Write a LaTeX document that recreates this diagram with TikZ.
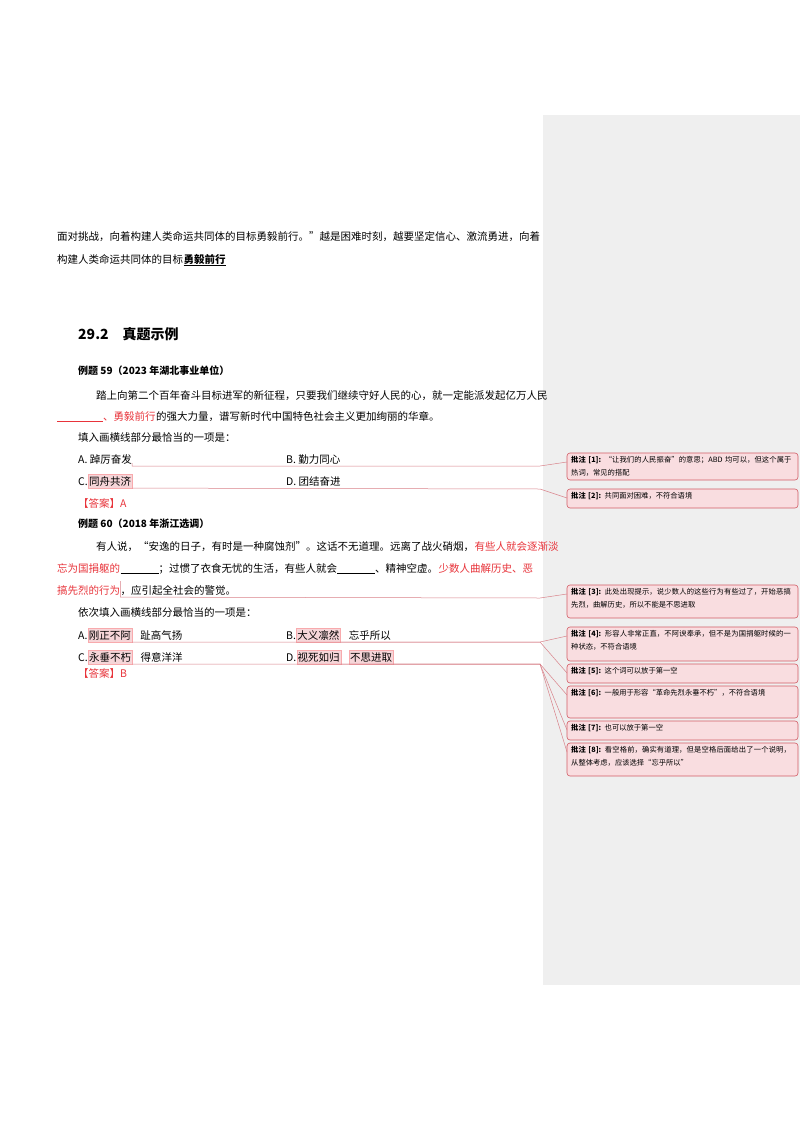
\documentclass[tikz,border=0pt]{standalone}
\usepackage{fontspec}
\setmainfont{Noto Sans CJK SC}
\XeTeXlinebreaklocale "zh"
\XeTeXlinebreakskip=0pt plus 1pt
\definecolor{cred}{HTML}{E8333A}
\definecolor{hl}{HTML}{F6D5D8}
\definecolor{cline}{HTML}{D9828A}
\definecolor{panel}{HTML}{EFEFEF}
\definecolor{boxf}{HTML}{F9DDE0}
\definecolor{boxd}{HTML}{D25C66}
\tikzset{
 t/.style={anchor=base west,inner sep=0pt,font=\fontsize{10.5}{12}\selectfont},
 hlt/.style={t,fill=hl,inner xsep=1pt,inner ysep=2pt,draw=hl!80!red},
 rt/.style={t,text=cred},
 cbox/.style={draw=boxd,fill=boxf,rounded corners=3pt,line width=0.6pt},
 ctext/.style={anchor=north west,inner sep=0pt,text width=222pt,font=\fontsize{7.3}{13}\selectfont,align=left},
 cl/.style={draw=cline,line width=0.5pt}
}
\begin{document}
\begin{tikzpicture}[x=1pt,y=-1pt]
\useasboundingbox[fill=white] (0,0) rectangle (800,1132);
\fill[panel] (543,115) rectangle (800,985);
% text
\node[t] (l1) at (57,240) {面对挑战，向着构建人类命运共同体的目标勇毅前行。”越是困难时刻，越要坚定信心、激流勇进，向着};
\node[t] (l2) at (57,263) {构建人类命运共同体的目标};
\node[t,font=\fontsize{10.5}{12}\selectfont\bfseries] (l2b) at (l2.base east) {\underline{勇毅前行}};
\node[t,font=\fontsize{14}{16}\selectfont\bfseries] (h) at (78,339) {29.2\quad 真题示例};
\node[t,font=\fontsize{10}{12}\selectfont\bfseries] (e59) at (78,374) {例题 59（2023 年湖北事业单位）};
\node[t] (p1) at (96,399) {踏上向第二个百年奋斗目标进军的新征程，只要我们继续守好人民的心，就一定能派发起亿万人民};
\node[rt] (p2a) at (57,420) {\underline{\hspace{46pt}}、勇毅前行};
\node[t] (p2b) at (p2a.base east) {的强大力量，谱写新时代中国特色社会主义更加绚丽的华章。};
\node[t] (q1) at (78,441) {填入画横线部分最恰当的一项是：};
\node[t] (oA) at (78,463) {A.\ 踔厉奋发};
\node[t] (oB) at (286,463) {B.\ 勤力同心};
\node[t] (oC) at (78,485) {C.\ };
\node[hlt] (oCh) at (oC.base east) {同舟共济};
\node[t] (oD) at (286,485) {D.\ 团结奋进};
\node[rt] (a1) at (78,507) {【答案】A};
\node[t,font=\fontsize{10}{12}\selectfont\bfseries] (e60) at (78,527) {例题 60（2018 年浙江选调）};
\node[t] (r1) at (96,550) {有人说，“安逸的日子，有时是一种腐蚀剂”。这话不无道理。远离了战火硝烟，};
\node[rt] (r1b) at (r1.base east) {有些人就会逐渐淡};
\node[rt] (r2a) at (57,572) {忘为国捐躯的};
\node[t] (r2b) at (r2a.base east) {\underline{\hspace{38pt}}；过惯了衣食无忧的生活，有些人就会\underline{\hspace{38pt}}、精神空虚。};
\node[rt] (r2c) at (r2b.base east) {少数人曲解历史、恶};
\node[rt] (r3a) at (57,594) {搞先烈的行为};
\node[t] (r3b) at (r3a.base east) {，应引起全社会的警觉。};
\node[t] (q2) at (78,616) {依次填入画横线部分最恰当的一项是：};
\node[t] (sA) at (78,639) {A.\ };
\node[hlt] (sAh) at (sA.base east) {刚正不阿};
\node[t] (sA2) at ([xshift=8pt]sAh.base east) {趾高气扬};
\node[t] (sB) at (286,639) {B.\ };
\node[hlt] (sBh) at (sB.base east) {大义凛然};
\node[t] (sB2) at ([xshift=8pt]sBh.base east) {忘乎所以};
\node[t] (sC) at (78,661) {C.\ };
\node[hlt] (sCh) at (sC.base east) {永垂不朽};
\node[t] (sC2) at ([xshift=8pt]sCh.base east) {得意洋洋};
\node[t] (sD) at (286,661) {D.\ };
\node[hlt] (sDh) at (sD.base east) {视死如归};
\node[hlt] (sD2) at ([xshift=8pt]sDh.base east) {不思进取};
\node[rt] (a2) at (78,677) {【答案】B};
% comment boxes
\foreach \n/\ya/\yb/\txt in {
 1/453/480/{\textbf{批注 [1]:} “让我们的人民振奋”的意思；ABD 均可以，但这个属于热词，常见的搭配},
 2/489/508/{\textbf{批注 [2]:} 共同面对困难，不符合语境},
 3/585/618/{\textbf{批注 [3]:} 此处出现提示，说少数人的这些行为有些过了，开始恶搞先烈，曲解历史，所以不能是不思进取},
 4/627/661/{\textbf{批注 [4]:} 形容人非常正直，不阿谀奉承，但不是为国捐躯时候的一种状态，不符合语境},
 5/664/683/{\textbf{批注 [5]:} 这个词可以放于第一空},
 6/686/718/{\textbf{批注 [6]:} 一般用于形容“革命先烈永垂不朽”，不符合语境},
 7/721/740/{\textbf{批注 [7]:} 也可以放于第一空},
 8/743/776/{\textbf{批注 [8]:} 看空格前，确实有道理，但是空格后面给出了一个说明，从整体考虑，应该选择“忘乎所以”}}{
 \draw[cbox] (567,\ya) rectangle (798,\yb);
 \coordinate (c\n) at (567,\ya+9);
 \node[ctext] (ct\n) at (571,\ya+3) {\txt};
}
% connectors
\draw[cl] (oA.base east) -- ++(0,3) -- (540,466) -- (c1);
\draw[cl] (oCh.south east) -- (540,489) -- (c2);
\draw[cl] (r3a.south east) ++(0,-14) -- ++(0,16) -- (540,598) -- (c3);
\draw[cl] (sAh.south east) -- (540,642) -- (c4);
\draw[cl] (sBh.south east) -- (540,642) -- (c5);
\draw[cl] (sCh.south east) -- (540,664) -- (c6);
\draw[cl] (sDh.south east) -- (540,664) -- (c7);
\draw[cl] (sD2.south east) -- (540,664) -- (c8);
\end{tikzpicture}
\end{document}
